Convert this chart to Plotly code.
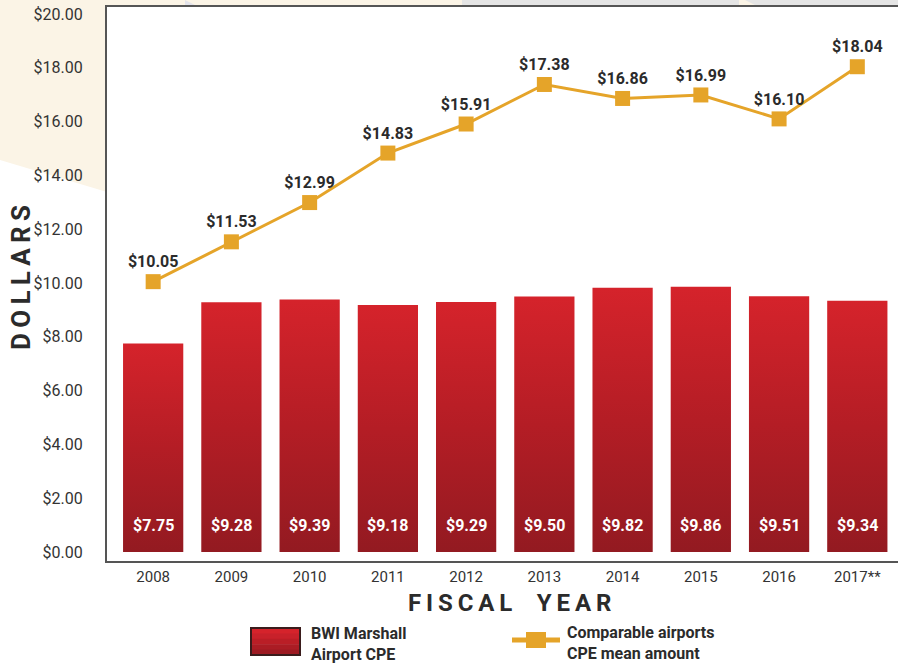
import plotly.graph_objects as go

years = ["2008", "2009", "2010", "2011", "2012", "2013", "2014", "2015", "2016", "2017**"]
bwi_cpe = [7.75, 9.28, 9.39, 9.18, 9.29, 9.50, 9.82, 9.86, 9.51, 9.34]
comparable_cpe = [10.05, 11.53, 12.99, 14.83, 15.91, 17.38, 16.86, 16.99, 16.10, 18.04]
y_ticks = [0, 2, 4, 6, 8, 10, 12, 14, 16, 18, 20]

W, H = 898, 668
L, R, T, B = 107, 0, 7, 107
BAR_HALF = 0.385
ORANGE = "#e5a429"
DARK = "#2b2b2b"


def px(x):
    return (x - L) / (W - L - R)


def py(y):
    return (H - B - y) / (H - T - B)


xs = list(range(len(years)))
fig = go.Figure()

# bars as filled polygons so they can carry a vertical gradient
for i, v in zip(xs, bwi_cpe):
    fig.add_trace(go.Scatter(
        x=[i - BAR_HALF, i - BAR_HALF, i + BAR_HALF, i + BAR_HALF, i - BAR_HALF],
        y=[0, v, v, 0, 0],
        mode="lines", fill="toself", line=dict(width=0),
        fillgradient=dict(type="vertical",
                          colorscale=[[0, "#931a21"], [0.5, "#b41d25"], [1, "#d5232b"]]),
        showlegend=False, hoverinfo="skip",
    ))

fig.add_trace(go.Scatter(
    x=xs, y=comparable_cpe, mode="lines+markers+text",
    line=dict(color=ORANGE, width=3),
    marker=dict(symbol="square", size=15, color=ORANGE),
    text=[f"${v:.2f}" for v in comparable_cpe], textposition="top center",
    textfont=dict(family="Roboto", size=16, color=DARK, weight="bold"),
    cliponaxis=False, showlegend=False,
))

annotations = [
    dict(x=i, y=1.0, text=f"${v:.2f}", showarrow=False, xref="x", yref="y",
         xanchor="center", yanchor="middle",
         font=dict(family="Roboto", size=16, color="white", weight="bold"))
    for i, v in zip(xs, bwi_cpe)
]

annotations += [
    dict(x=px(509), y=py(603), xref="paper", yref="paper", showarrow=False,
         xanchor="center", yanchor="middle",
         text="\u2009".join("FISCAL") + "\u2003" + "\u2009".join("YEAR"),
         font=dict(family="Roboto", size=24, color=DARK, weight="bold")),
    dict(x=px(21), y=py(278), xref="paper", yref="paper", showarrow=False, textangle=-90,
         xanchor="center", yanchor="middle",
         text="\u2009".join("DOLLARS"),
         font=dict(family="Roboto", size=26, color=DARK, weight="bold")),
    dict(x=px(309), y=py(644), xref="paper", yref="paper", showarrow=False,
         xanchor="left", yanchor="middle", align="left", text="BWI Marshall<br>Airport CPE",
         font=dict(family="Roboto", size=16, color=DARK, weight="bold")),
    dict(x=px(565), y=py(643), xref="paper", yref="paper", showarrow=False,
         xanchor="left", yanchor="middle", align="left", text="Comparable airports<br>CPE mean amount",
         font=dict(family="Roboto", size=16, color=DARK, weight="bold")),
]

shapes = [
    # cream backdrop on the upper left and top
    dict(type="path", xref="paper", yref="paper", layer="below", line=dict(width=0),
         fillcolor="#fbf4e6",
         path=f"M {px(0)},{py(0)} L {px(462)},{py(0)} L {px(462)},{py(7)} L {px(107)},{py(7)} "
              f"L {px(107)},{py(192)} L {px(0)},{py(160)} Z"),
    dict(type="rect", xref="paper", yref="paper", layer="below", line=dict(width=0),
         fillcolor="#e5e5e5", x0=px(462), x1=px(898), y0=py(0), y1=py(7)),
    dict(type="path", xref="paper", yref="paper", layer="below", line=dict(width=0),
         fillcolor="#fbf4e6",
         path=f"M {px(739)},{py(0)} L {px(745)},{py(0)} L {px(757)},{py(6)} L {px(739)},{py(7)} Z"),
    dict(type="path", xref="paper", yref="paper", layer="below", line=dict(width=0),
         fillcolor="#e3e3ea",
         path=f"M {px(185)},{py(0)} L {px(197)},{py(6)} L {px(185)},{py(7)} Z"),
]

# legend swatch for bars
strips = ["#d5232b", "#c8212a", "#ba1e26", "#ab1c24", "#9d1a22"]
for k, c in enumerate(strips):
    y0 = 628 + k * 27 / len(strips)
    shapes.append(dict(type="rect", xref="paper", yref="paper", line=dict(width=0),
                       fillcolor=c, x0=px(251), x1=px(300), y0=py(y0), y1=py(y0 + 27 / len(strips) + 0.5)))
shapes.append(dict(type="rect", xref="paper", yref="paper", line=dict(color="#3a1c1c", width=2),
                   x0=px(251), x1=px(300), y0=py(628), y1=py(655)))
# legend swatch for line
shapes.append(dict(type="line", xref="paper", yref="paper", line=dict(color=ORANGE, width=5),
                   x0=px(512), x1=px(560), y0=py(640), y1=py(640)))
shapes.append(dict(type="rect", xref="paper", yref="paper", line=dict(width=0), fillcolor=ORANGE,
                   x0=px(526), x1=px(546), y0=py(632), y1=py(648)))

fig.update_layout(
    width=W, height=H,
    margin=dict(l=L, r=R, t=T, b=B, autoexpand=False),
    paper_bgcolor="white", plot_bgcolor="white",
    showlegend=False,
    annotations=annotations, shapes=shapes,
    xaxis=dict(
        range=[-0.59, 9.52], tickvals=xs, ticktext=years,
        showgrid=False, zeroline=False, ticks="",
        showline=True, linecolor="#555555", linewidth=2, mirror=True,
        tickfont=dict(family="Roboto", size=15, color="#333333"),
        ticklabelstandoff=1,
    ),
    yaxis=dict(
        range=[-0.335, 20.26], tickvals=y_ticks,
        ticktext=[f"${v:.2f}" for v in y_ticks],
        showgrid=False, zeroline=False, ticks="",
        showline=True, linecolor="#555555", linewidth=2,
        tickfont=dict(family="Roboto", size=16, color="#333333"),
        ticklabelstandoff=19,
    ),
)

# drop the browser's default 8px body margin so the figure sits at the page origin
fig.write_html("out.html", config={"displayModeBar": False},
               post_script="document.body.style.margin='0px';")
